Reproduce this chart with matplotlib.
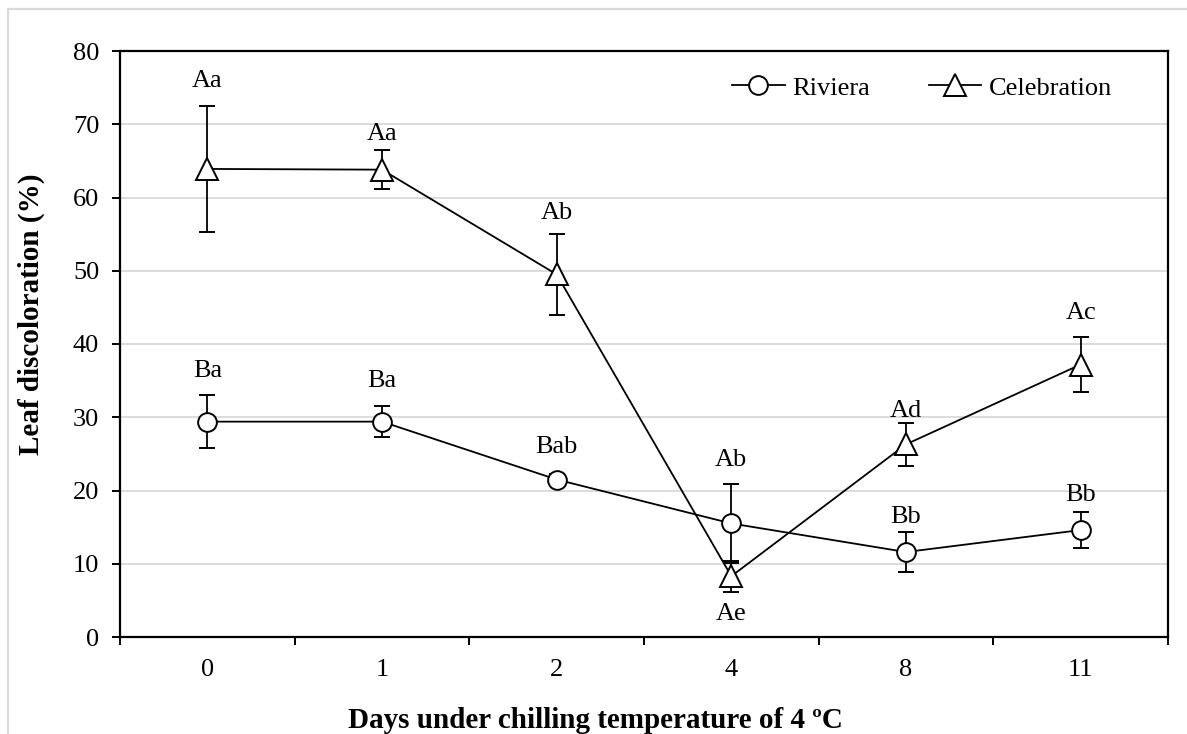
import matplotlib
matplotlib.use("Agg")
import matplotlib.pyplot as plt
from matplotlib.patches import Rectangle
from matplotlib.lines import Line2D

plt.rcParams['font.family'] = ['Liberation Serif', 'DejaVu Serif']

days = ["0", "1", "2", "4", "8", "11"]

riviera = [29.4, 29.4, 21.5, 15.5, 11.6, 14.6]
riviera_err = [3.6, 2.1, 0.8, 5.4, 2.7, 2.5]
riviera_labels = ["Ba", "Ba", "Bab", "Ab", "Bb", "Bb"]
riviera_label_y = [36.3, 34.9, 25.9, 24.2, 16.4, 19.4]

celebration = [63.9, 63.8, 49.5, 8.3, 26.3, 37.2]
celebration_err = [8.6, 2.7, 5.5, 2.1, 2.9, 3.8]
celebration_labels = ["Aa", "Aa", "Ab", "Ae", "Ad", "Ac"]
celebration_label_y = [75.9, 68.7, 57.9, 3.1, 30.9, 44.2]

fs = 19

fig = plt.figure(figsize=(11.87, 7.34), dpi=100)
ax = fig.add_axes([120 / 1187, 97 / 734, 1048 / 1187, 586 / 734])

# light grey outer frame (right and bottom run off the picture)
fig.patches.append(Rectangle((8 / 1187, -0.05), 1.1, (725 / 734) + 0.05,
                             transform=fig.transFigure, fill=False,
                             edgecolor="#d9d9d9", lw=1.6, clip_on=False))

x = list(range(len(days)))

ax.errorbar(x, riviera, yerr=riviera_err, fmt='-o', color='black',
            lw=1.3, elinewidth=1.3, capsize=5.5, capthick=1.3,
            ms=13.5, mfc='white', mec='black', mew=1.4, zorder=3)
ax.errorbar(x, celebration, yerr=celebration_err, fmt='-^', color='black',
            lw=1.3, elinewidth=1.3, capsize=5.5, capthick=1.3,
            ms=16, mfc='white', mec='black', mew=1.4, zorder=3)

for i in x:
    ax.text(i, riviera_label_y[i], riviera_labels[i], ha='center',
            va='center', fontsize=fs)
    ax.text(i, celebration_label_y[i], celebration_labels[i], ha='center',
            va='center', fontsize=fs)

ax.set_xlim(-0.5, len(days) - 0.5)
ax.set_ylim(0, 80)
ax.set_yticks(range(0, 81, 10))
ax.set_xticks(x)
ax.set_xticklabels(days)
ax.set_xticks([i - 0.5 for i in range(len(days) + 1)], minor=True)
ax.tick_params(axis='x', which='major', length=0, pad=16, labelsize=fs)
ax.tick_params(axis='x', which='minor', length=6, width=1.4, direction='out')
ax.tick_params(axis='y', length=6, width=1.4, direction='out', pad=9,
               labelsize=fs)

ax.grid(axis='y', color='#d9d9d9', lw=1.3)
ax.set_axisbelow(True)
for sp in ax.spines.values():
    sp.set_linewidth(1.6)

ax.set_xlabel('Days under chilling temperature of 4 ºC', fontsize=21,
              fontweight='bold')
ax.xaxis.set_label_coords(0.454, (637 - 721) / 586)
ax.xaxis.label.set_va('center')
ax.set_ylabel('Leaf discoloration (%)', fontsize=21, fontweight='bold')
ax.yaxis.set_label_coords((31 - 120) / 1048, (637 - 314) / 586)
ax.yaxis.label.set_va('center')

handles = [
    Line2D([], [], color='black', lw=1.3, marker='o', ms=13.5,
           mfc='white', mec='black', mew=1.4),
    Line2D([], [], color='black', lw=1.3, marker='^', ms=16,
           mfc='white', mec='black', mew=1.4),
]
ax.legend(handles, ['Riviera', 'Celebration'], loc='center right',
          bbox_to_anchor=(0.947, 0.937), frameon=False, ncol=2, fontsize=fs,
          handlelength=2.0, handletextpad=0.3, columnspacing=2.2,
          borderpad=0, borderaxespad=0)

fig.savefig('out.png', dpi=100)
